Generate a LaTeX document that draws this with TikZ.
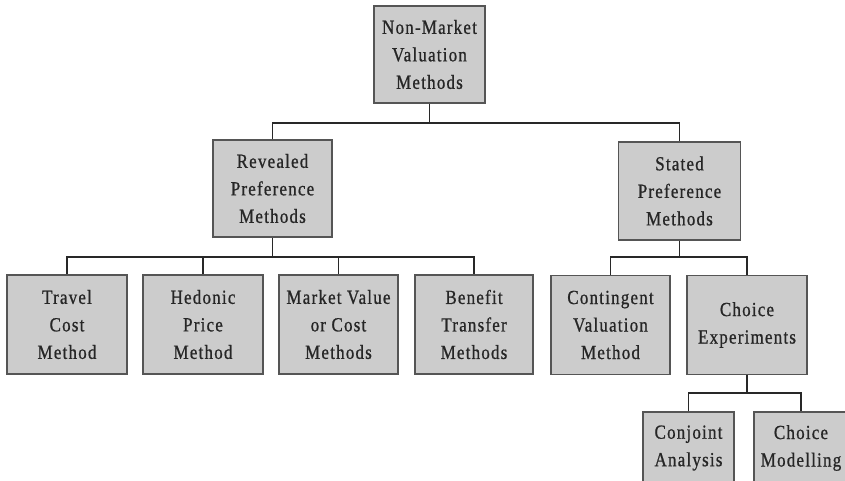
\documentclass[tikz,border=0pt]{standalone}
\usepackage{fontspec}
\setmainfont{Liberation Serif}[LetterSpace=6,FakeStretch=0.85,FakeBold=0.8]
\definecolor{boxfill}{RGB}{204,204,204}
\definecolor{boxline}{RGB}{85,85,85}
\definecolor{conn}{RGB}{40,40,40}
\begin{document}
\begin{tikzpicture}[x=1pt,y=-1pt,
  mbox/.style={draw=boxline,fill=boxfill,line width=1.3pt,inner sep=0pt,
    align=center,font=\fontsize{20}{27.5}\selectfont,text=black!85},
  conn/.style={draw=conn,line width=1.8pt}]
\useasboundingbox (0,0) rectangle (845,481);
\node[mbox,minimum width=111pt,minimum height=97pt] (nm) at (429.5,54.5) {Non-Market\\Valuation\\Methods};
\node[mbox,minimum width=119pt,minimum height=97pt] (rp) at (272.5,188.5) {Revealed\\Preference\\Methods};
\node[mbox,minimum width=122pt,minimum height=98pt] (sp) at (679.5,191) {Stated\\Preference\\Methods};
\node[mbox,minimum width=120pt,minimum height=99pt] (tc) at (67,324.5) {Travel\\Cost\\Method};
\node[mbox,minimum width=120pt,minimum height=99pt] (hp) at (203,324.5) {Hedonic\\Price\\Method};
\node[mbox,minimum width=119pt,minimum height=99pt] (mv) at (338.5,324.5) {Market Value\\or Cost\\Methods};
\node[mbox,minimum width=118pt,minimum height=99pt] (bt) at (474,324.5) {Benefit\\Transfer\\Methods};
\node[mbox,minimum width=119pt,minimum height=99pt] (cv) at (610.5,325) {Contingent\\Valuation\\Method};
\node[mbox,minimum width=120pt,minimum height=99pt] (ce) at (747,325) {Choice\\Experiments};
\node[mbox,minimum width=91pt,minimum height=72pt] (ca) at (688.5,448) {Conjoint\\Analysis};
\node[mbox,minimum width=94pt,minimum height=72pt] (cm) at (801,448) {Choice\\Modelling};
\coordinate (y1) at (0,123);
\coordinate (y2) at (0,257);
\coordinate (y3) at (0,393);
\draw[conn] (nm.south) -- (nm.south |- y1);
\draw[conn] (rp.north) |- (y1 -| nm.south) -| (sp.north);
\draw[conn] (rp.south) -- (rp.south |- y2);
\draw[conn] (tc.north) |- (y2 -| bt.north) -- (bt.north);
\draw[conn] (hp.north) -- (hp.north |- y2);
\draw[conn] (mv.north) -- (mv.north |- y2);
\draw[conn] (sp.south) -- (sp.south |- y2);
\draw[conn] (cv.north) |- (y2 -| ce.north) -- (ce.north);
\draw[conn] (ce.south) -- (ce.south |- y3);
\draw[conn] (ca.north) |- (y3 -| cm.north) -- (cm.north);
\end{tikzpicture}
\end{document}
